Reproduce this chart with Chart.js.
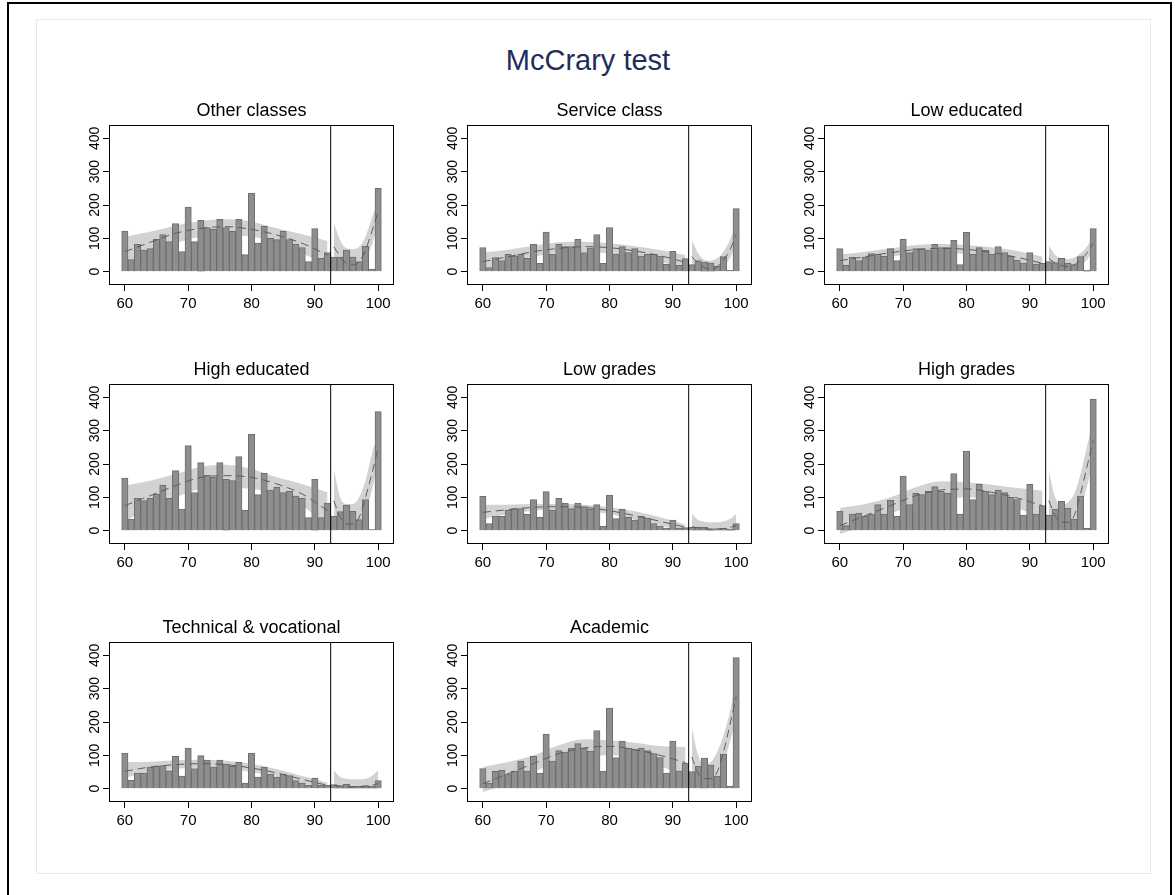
<!DOCTYPE html>
<html><head><meta charset="utf-8">
<script src="https://cdn.jsdelivr.net/npm/chart.js@4.4.1/dist/chart.umd.min.js"></script>
<style>
html,body{margin:0;padding:0;background:#fff;}
body{width:1176px;height:895px;position:relative;overflow:hidden;font-family:"Liberation Sans",Arial,sans-serif;}
#outer{position:absolute;left:7px;top:2px;width:1165px;height:930px;border:2px solid #000;box-sizing:border-box;}
#inner{position:absolute;left:36px;top:19px;width:1115px;height:855px;border:1px solid #e2e9f0;box-sizing:border-box;}
#title{position:absolute;left:0;width:1176px;top:43px;line-height:34px;text-align:center;font-size:29px;color:#1e2d5a;}
canvas{position:absolute;}
</style></head><body>
<div id="outer"></div>
<div id="inner"></div>
<div id="title">McCrary test</div>
<script>
const FONT = '"Liberation Sans", Arial, sans-serif';
const xTickValues = [60, 70, 80, 90, 100];
const yTickValues = [0, 100, 200, 300, 400];
const xMin = 57.5, xMax = 102.5, yMin = -40, yMax = 440;
const cutoff = 92.5;
const binCenters = [60,61,62,63,64,65,66,67,68,69,70,71,72,73,74,75,76,77,78,79,80,81,82,83,84,85,86,87,88,89,90,91,92,93,94,95,96,97,98,99,100];
const leftX = [60, 64, 68, 72, 76, 80, 84, 88, 92];
const rightX = [93, 94, 95, 96, 97, 98, 99, 100];

// Other classes
const otherBars = [122,36,82,65,69,97,111,90,144,60,194,90,154,132,127,157,132,121,157,51,236,86,136,100,96,121,96,82,72,30,129,40,57,44,44,65,44,30,76,8,250];
const otherHiL = [105,120,138,152,157,150,130,112,92];
const otherFitL = [60,88,115,130,135,127,110,85,50];
const otherLoL = [18,50,85,105,110,105,88,55,18];
const otherHiR = [145,95,70,68,75,105,160,215];
const otherFitR = [75,45,25,20,30,65,120,180];
const otherLoR = [30,10,5,2,5,35,80,140];

// Service class
const serviceBars = [72,12,42,33,52,47,52,40,82,25,119,52,82,75,75,97,57,71,111,25,132,52,75,57,69,47,52,52,47,22,61,19,39,21,33,29,26,16,45,4,189];
const serviceHiL = [58,66,78,88,90,85,76,65,50];
const serviceFitL = [30,45,60,70,75,72,62,48,28];
const serviceLoL = [5,25,45,55,58,55,46,30,8];
const serviceHiR = [95,55,35,33,40,60,95,145];
const serviceFitR = [45,25,12,8,15,35,65,110];
const serviceLoR = [10,3,0,0,2,15,40,80];

// Low educated
const lowEduBars = [69,19,43,33,44,54,52,46,69,33,97,57,69,69,65,82,72,72,94,21,118,52,72,65,52,75,57,46,35,26,57,23,25,30,27,40,25,21,45,5,129];
const lowEduHiL = [52,60,70,80,83,80,73,62,45];
const lowEduFitL = [33,45,57,66,70,67,57,43,25];
const lowEduLoL = [12,30,45,52,55,53,42,25,5];
const lowEduHiR = [80,50,40,38,42,55,75,105];
const lowEduFitR = [40,25,18,15,20,35,55,85];
const lowEduLoR = [8,3,2,2,5,18,35,65];

// High educated
const highEduBars = [158,35,97,90,97,110,137,97,180,65,255,114,204,166,160,204,154,150,222,62,289,108,172,122,130,114,118,104,97,39,154,39,83,43,57,77,58,33,93,3,357];
const highEduHiL = [135,150,170,192,198,185,160,140,115];
const highEduFitL = [75,105,135,160,165,160,140,110,60];
const highEduLoL = [30,65,100,125,130,125,110,75,15];
const highEduHiR = [185,100,80,80,100,150,230,290];
const highEduFitR = [90,40,20,20,40,100,170,250];
const highEduLoR = [30,8,3,3,10,55,120,200];

// Low grades
const lowGradeBars = [103,21,43,43,62,66,66,50,93,40,117,62,97,83,66,83,72,64,78,14,107,36,65,40,32,43,37,21,14,8,32,8,9,10,11,10,5,6,7,5,21];
const lowGradeHiL = [78,78,80,80,78,70,58,40,18];
const lowGradeFitL = [55,63,70,72,70,60,45,28,10];
const lowGradeLoL = [35,50,60,62,60,50,33,15,3];
const lowGradeHiR = [50,32,27,25,25,28,35,50];
const lowGradeFitR = [12,8,6,5,5,6,10,15];
const lowGradeLoR = [0,0,0,0,0,0,0,0];

// High grades
const highGradeBars = [58,15,50,53,43,50,78,50,91,43,164,78,112,108,118,132,118,112,171,50,239,93,139,118,108,122,114,100,93,47,139,50,75,47,65,88,68,35,104,7,395];
const highGradeHiL = [68,80,100,130,148,145,138,128,120];
const highGradeFitL = [15,45,75,105,122,125,115,98,75];
const highGradeLoL = [-10,15,50,80,95,100,92,68,35];
const highGradeHiR = [180,100,75,85,110,170,250,330];
const highGradeFitR = [90,45,25,25,45,110,190,270];
const highGradeLoR = [30,8,3,5,20,70,130,210];

// Technical & vocational
const techBars = [107,25,47,47,65,68,69,54,97,38,122,60,99,86,65,86,74,67,79,17,107,35,65,44,35,44,39,24,17,10,32,10,10,12,9,13,7,7,9,7,24];
const techHiL = [80,81,85,87,84,75,58,38,18];
const techFitL = [52,65,72,75,72,62,47,28,10];
const techLoL = [33,50,60,63,60,50,35,15,2];
const techHiR = [55,35,30,28,28,30,38,55];
const techFitR = [10,7,5,5,5,7,10,15];
const techLoR = [0,0,0,0,0,0,0,0];

// Academic
const academicBars = [60,17,52,56,44,53,83,53,97,47,164,83,114,110,121,135,122,113,174,53,242,93,143,121,117,122,114,105,93,47,143,53,77,51,67,92,71,38,104,8,393];
const academicHiL = [65,80,100,130,148,145,138,128,125];
const academicFitL = [15,45,75,105,122,127,117,100,78];
const academicLoL = [-10,15,50,80,95,100,92,68,35];
const academicHiR = [185,100,75,80,110,160,230,330];
const academicFitR = [95,45,30,30,50,110,190,275];
const academicLoR = [35,5,0,5,20,70,140,210];

const panelTitles = ['Other classes','Service class','Low educated','High educated','Low grades','High grades','Technical & vocational','Academic'];
const panels = [
  {bars: otherBars, hiL: otherHiL, fitL: otherFitL, loL: otherLoL, hiR: otherHiR, fitR: otherFitR, loR: otherLoR},
  {bars: serviceBars, hiL: serviceHiL, fitL: serviceFitL, loL: serviceLoL, hiR: serviceHiR, fitR: serviceFitR, loR: serviceLoR},
  {bars: lowEduBars, hiL: lowEduHiL, fitL: lowEduFitL, loL: lowEduLoL, hiR: lowEduHiR, fitR: lowEduFitR, loR: lowEduLoR},
  {bars: highEduBars, hiL: highEduHiL, fitL: highEduFitL, loL: highEduLoL, hiR: highEduHiR, fitR: highEduFitR, loR: highEduLoR},
  {bars: lowGradeBars, hiL: lowGradeHiL, fitL: lowGradeFitL, loL: lowGradeLoL, hiR: lowGradeHiR, fitR: lowGradeFitR, loR: lowGradeLoR},
  {bars: highGradeBars, hiL: highGradeHiL, fitL: highGradeFitL, loL: highGradeLoL, hiR: highGradeHiR, fitR: highGradeFitR, loR: highGradeLoR},
  {bars: techBars, hiL: techHiL, fitL: techFitL, loL: techLoL, hiR: techHiR, fitR: techFitR, loR: techLoR},
  {bars: academicBars, hiL: academicHiL, fitL: academicFitL, loL: academicLoL, hiR: academicHiR, fitR: academicFitR, loR: academicLoR}
];

const colLeft = [109, 467, 824];
const rowTop = [125, 384, 642];
const plotW = 285, plotH = 160;
const padL = 50, padR = 50, padT = 32, padB = 35;

const framePlugin = {
  id: 'frame',
  afterDatasetsDraw(chart) {
    const {ctx, chartArea: a} = chart;
    ctx.save();
    ctx.strokeStyle = '#000';
    ctx.lineWidth = 1;
    ctx.strokeRect(Math.round(a.left) + 0.5, Math.round(a.top) + 0.5, Math.round(a.right - a.left) - 1, Math.round(a.bottom - a.top) - 1);
    ctx.restore();
  }
};

const bandColor = '#d2d2d2';
const pts = (xs, ys) => xs.map((x, i) => ({x: x, y: ys[i]}));

panels.forEach((p, idx) => {
  const fl = colLeft[idx % 3], ft = rowTop[Math.floor(idx / 3)];
  const W = padL + plotW + padR, H = padT + plotH + padB;
  const cv = document.createElement('canvas');
  cv.width = W; cv.height = H;
  cv.style.left = (fl - padL) + 'px';
  cv.style.top = (ft - padT) + 'px';
  cv.style.width = W + 'px'; cv.style.height = H + 'px';
  document.body.appendChild(cv);

  const band = {type: 'line', borderWidth: 0, pointRadius: 0, backgroundColor: bandColor, borderColor: bandColor, cubicInterpolationMode: 'monotone', order: 3};
  const fit = {type: 'line', borderWidth: 1, borderColor: '#5c5c5c', borderDash: [8, 5], pointRadius: 0, fill: false, cubicInterpolationMode: 'monotone', order: 1};
  const datasets = [
    {type: 'line', data: [{x: cutoff, y: yMin}, {x: cutoff, y: yMax}], borderColor: '#000', borderWidth: 1, pointRadius: 0, fill: false, order: 0},
    Object.assign({}, fit, {data: pts(leftX, p.fitL)}),
    Object.assign({}, fit, {data: pts(rightX, p.fitR)}),
    {type: 'bar', data: pts(binCenters, p.bars), backgroundColor: '#8e8e8e', borderColor: '#6e6e6e', borderWidth: 1, barPercentage: 1, categoryPercentage: 1, order: 2},
    Object.assign({}, band, {data: pts(leftX, p.loL), fill: false}),
    Object.assign({}, band, {data: pts(leftX, p.hiL), fill: 4}),
    Object.assign({}, band, {data: pts(rightX, p.loR), fill: false}),
    Object.assign({}, band, {data: pts(rightX, p.hiR), fill: 6})
  ];

  new Chart(cv, {
    type: 'line',
    data: {datasets: datasets},
    plugins: [framePlugin],
    options: {
      responsive: false,
      animation: false,
      devicePixelRatio: 1,
      layout: {padding: {left: 0, right: padR, top: 0, bottom: 0}},
      plugins: {
        legend: {display: false},
        tooltip: {enabled: false},
        title: {display: true, text: panelTitles[idx], fullSize: false, color: '#000',
                font: {size: 18, family: FONT, weight: 'normal', lineHeight: 1.2},
                padding: {top: 7.2, bottom: 3.2}}
      },
      scales: {
        x: {
          type: 'linear', min: xMin, max: xMax, offset: false,
          afterBuildTicks: s => { s.ticks = xTickValues.map(v => ({value: v})); },
          afterFit: s => { s.height = padB; },
          grid: {display: true, drawOnChartArea: false, drawTicks: true, tickLength: 6, color: '#000', lineWidth: 1, offset: false},
          border: {display: false},
          ticks: {font: {size: 15, family: FONT}, color: '#000', padding: 4, minRotation: 0, maxRotation: 0, autoSkip: false, callback: v => String(v)}
        },
        y: {
          type: 'linear', min: yMin, max: yMax,
          afterBuildTicks: s => { s.ticks = yTickValues.map(v => ({value: v})); },
          afterFit: s => { s.width = padL; },
          grid: {display: true, drawOnChartArea: false, drawTicks: true, tickLength: 6, color: '#000', lineWidth: 1},
          border: {display: false},
          ticks: {font: {size: 14, family: FONT}, color: '#000', minRotation: 90, maxRotation: 90, crossAlign: 'center', padding: -4, autoSkip: false, callback: v => String(v)}
        }
      }
    }
  });
});
</script>
</body></html>
